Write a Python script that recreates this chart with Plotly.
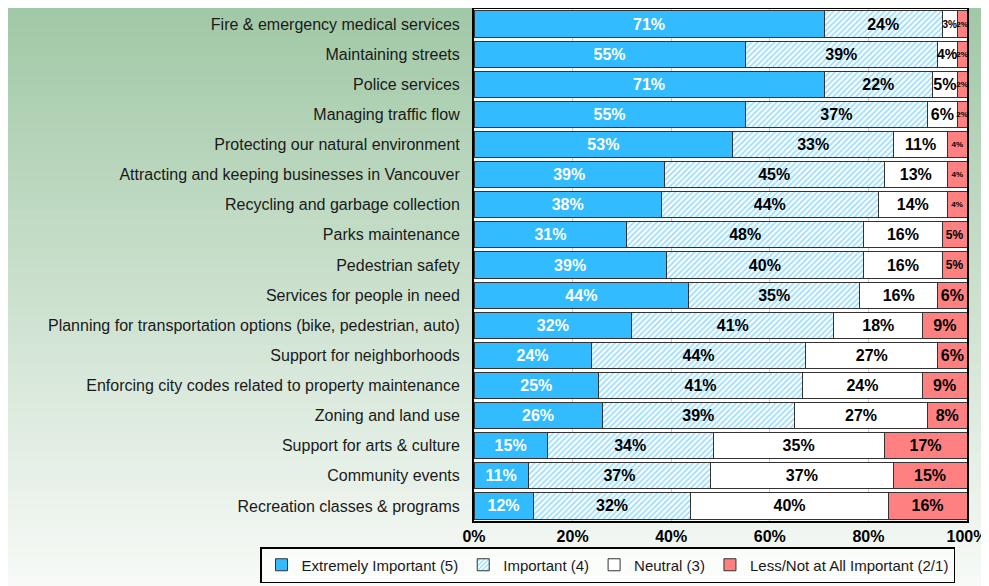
import plotly.graph_objects as go

services = [
    "Fire & emergency medical services",
    "Maintaining streets",
    "Police services",
    "Managing traffic flow",
    "Protecting our natural environment",
    "Attracting and keeping businesses in Vancouver",
    "Recycling and garbage collection",
    "Parks maintenance",
    "Pedestrian safety",
    "Services for people in need",
    "Planning for transportation options (bike, pedestrian, auto)",
    "Support for neighborhoods",
    "Enforcing city codes related to property maintenance",
    "Zoning and land use",
    "Support for arts & culture",
    "Community events",
    "Recreation classes & programs",
]

extremely = [71, 55, 71, 55, 53, 39, 38, 31, 39, 44, 32, 24, 25, 26, 15, 11, 12]
important = [24, 39, 22, 37, 33, 45, 44, 48, 40, 35, 41, 44, 41, 39, 34, 37, 32]
neutral = [3, 4, 5, 6, 11, 13, 14, 16, 16, 16, 18, 27, 24, 27, 35, 37, 40]
less_not = [2, 2, 2, 2, 4, 4, 4, 5, 5, 6, 9, 6, 9, 8, 17, 15, 16]

x_ticks = [0, 20, 40, 60, 80, 100]
x_labels = ["0%", "20%", "40%", "60%", "80%", "100%"]

# page body has an 8px margin, so the figure is a bit smaller than the window
W, H = 981, 578
L, R, T, B = 466, 22, 1, 65

fig = go.Figure()


# narrow segments get smaller labels, like the original
def neutral_size(v):
    return int(min(16, max(8, 4 * v - 2)))


def red_size(v):
    return int(min(16, max(8, 4 * v - 8)))


series = [
    ("Extremely Important (5)", extremely, dict(color="#33bbff"), "white", lambda v: 16),
    ("Important (4)", important,
     dict(color="white", pattern=dict(shape="/", fgcolor="#33bbff", bgcolor="white", size=4, solidity=0.45)),
     "black", lambda v: 16),
    ("Neutral (3)", neutral, dict(color="white"), "black", neutral_size),
    ("Less/Not at All Important (2/1)", less_not, dict(color="#ff8080"), "black", red_size),
]

for name, vals, marker, tcolor, sizer in series:
    marker = dict(marker)
    marker["line"] = dict(color="#333333", width=1)
    fig.add_trace(go.Bar(
        y=services,
        x=vals,
        name=name,
        orientation="h",
        marker=marker,
        text=[f"{v}%" for v in vals],
        textposition="inside",
        insidetextanchor="middle",
        textangle=0,
        textfont=dict(family="Liberation Sans", size=[sizer(v) for v in vals],
                      color=tcolor, weight="bold"),
        constraintext="none",
    ))

# background gradient behind everything
plot_h = H - T - B
plot_w = W - L - R
n = 60
top_c = (162, 201, 167)
bot_c = (247, 250, 247)
for i in range(n):
    py0 = H * i / n
    py1 = H * (i + 1) / n + 1
    f = i / (n - 1)
    c = tuple(int(top_c[k] + (bot_c[k] - top_c[k]) * f) for k in range(3))
    fig.add_shape(
        type="rect", xref="paper", yref="paper", layer="below",
        x0=-L / plot_w - 0.01, x1=(W - L) / plot_w + 0.01,
        y0=(H - B - py1) / plot_h, y1=(H - B - py0) / plot_h,
        fillcolor="rgb(%d,%d,%d)" % c, line=dict(width=0),
    )
fig.add_shape(
    type="rect", xref="paper", yref="paper", layer="below",
    x0=0, x1=1, y0=0, y1=1, fillcolor="white", line=dict(width=0),
)

fig.update_layout(
    width=W,
    height=H,
    barmode="stack",
    barnorm="percent",
    bargap=0.13,
    paper_bgcolor="rgba(0,0,0,0)",
    plot_bgcolor="rgba(0,0,0,0)",
    margin=dict(l=L, r=R, t=T, b=B, autoexpand=False),
    font=dict(family="Liberation Sans", size=16, color="#1a1a1a"),
    showlegend=True,
    legend=dict(
        orientation="h",
        x=(252 - L) / plot_w, xanchor="left",
        y=(H - B - 575) / plot_h, yanchor="bottom",
        bgcolor="rgba(255,255,255,0.6)",
        bordercolor="black",
        borderwidth=1.5,
        font=dict(size=15, color="#1a1a1a"),
        traceorder="normal",
        itemwidth=30,
    ),
    xaxis=dict(
        range=[0, 100],
        tickvals=x_ticks,
        ticktext=x_labels,
        tickfont=dict(family="Liberation Sans", size=16, color="black", weight="bold"),
        showgrid=True,
        gridcolor="#c8c8c8",
        gridwidth=1,
        showline=True,
        mirror=True,
        linecolor="black",
        linewidth=2,
        zeroline=False,
        ticks="",
    ),
    yaxis=dict(
        autorange="reversed",
        showline=True,
        mirror=True,
        linecolor="black",
        linewidth=2,
        ticks="",
        ticklabelstandoff=9,
        tickfont=dict(size=16, color="#1a1a1a"),
    ),
)

fig.write_html("out.html")
